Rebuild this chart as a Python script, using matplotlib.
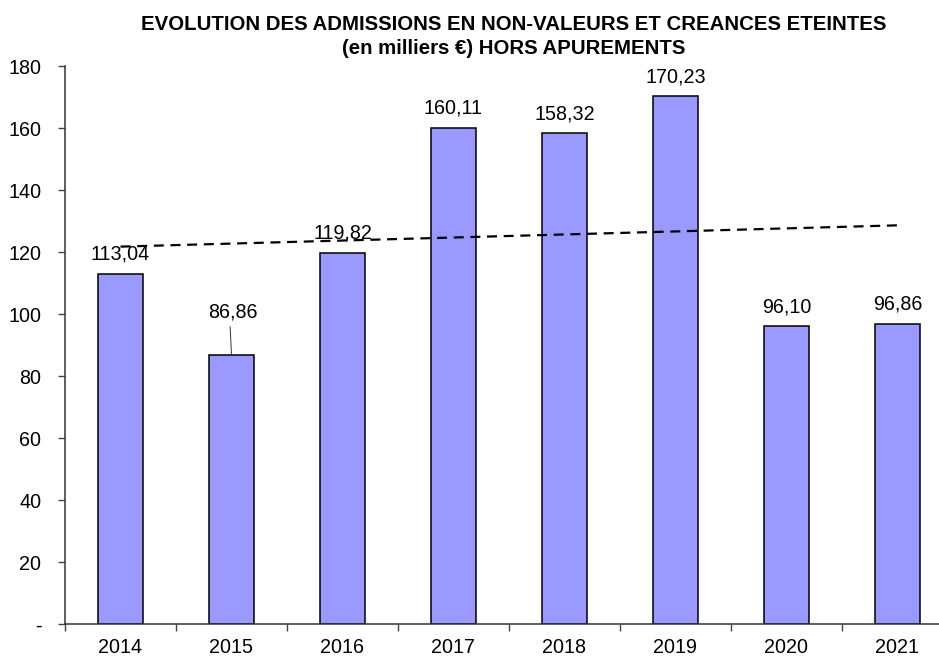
import matplotlib
matplotlib.use("Agg")
import matplotlib.pyplot as plt
import numpy as np

plt.rcParams['font.family'] = ['Liberation Sans', 'DejaVu Sans']

years = ["2014", "2015", "2016", "2017", "2018", "2019", "2020", "2021"]
values = [113.04, 86.86, 119.82, 160.11, 158.32, 170.23, 96.10, 96.86]
labels = ["113,04", "86,86", "119,82", "160,11", "158,32", "170,23", "96,10", "96,86"]
yticks = [0, 20, 40, 60, 80, 100, 120, 140, 160, 180]
ytick_labels = ["-", "20", "40", "60", "80", "100", "120", "140", "160", "180"]

FS = 14.2

fig = plt.figure(figsize=(9.39, 6.56), dpi=100)
ax = fig.add_axes([65/939, 1-624/656, (939-65)/939, (624-66)/656])

x = np.arange(len(years))
ax.bar(x, values, width=0.4, color="#9999FF", edgecolor="black", linewidth=1.1, zorder=2)

# linear trend
coef = np.polyfit(x + 1, values, 1)
tx = np.array([x[0], x[-1]])
ax.plot(tx, np.polyval(coef, tx + 1), color="black", lw=1.6,
        linestyle=(0, (4.5, 3)), zorder=3)

for i, (v, lab) in enumerate(zip(values, labels)):
    if i == 1:
        ax.text(i + 0.01, v + 13.8, lab, ha="center", va="center", fontsize=FS)
        ax.plot([i - 0.012, i], [v + 9.0, v], color="#333333", lw=0.7)
    else:
        ax.text(i, v + 6.3, lab, ha="center", va="center", fontsize=FS)

ax.set_yticks(yticks)
ax.set_yticklabels(ytick_labels, fontsize=FS)
ax.set_xticks(x)
ax.set_xticklabels(years, fontsize=FS)
ax.set_xticks(np.arange(-0.5, 7.6, 1.0), minor=True)
ax.set_ylim(0, 180)
ax.set_xlim(-0.5, 7.375)
ax.tick_params(axis="x", which="major", length=0, pad=10)
ax.tick_params(axis="x", which="minor", length=5, width=1, color="#444444", direction="out")
ax.tick_params(axis="y", length=5, width=1, color="#444444", pad=12)
for s in ["top", "right"]:
    ax.spines[s].set_visible(False)
for s in ["left", "bottom"]:
    ax.spines[s].set_color("#333333")
    ax.spines[s].set_linewidth(1.1)

fig.text(513.5/939, 1-25/656, "EVOLUTION DES ADMISSIONS EN NON-VALEURS ET CREANCES ETEINTES",
         ha="center", va="center", fontsize=14.7, fontweight="bold")
fig.text(513.5/939, 1-48.5/656, "(en milliers €) HORS APUREMENTS",
         ha="center", va="center", fontsize=14.7, fontweight="bold")

fig.savefig("out.png", dpi=100)
